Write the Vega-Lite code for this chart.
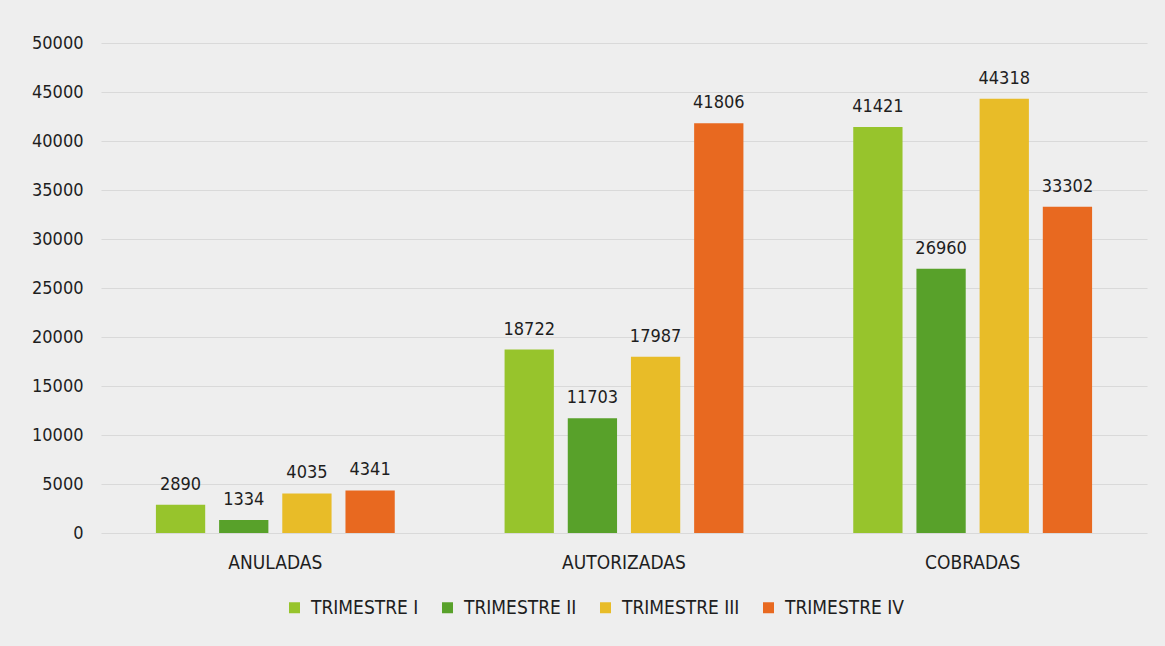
{
  "$schema": "https://vega.github.io/schema/vega-lite/v6.json",
  "autosize": {"type": "none"},
  "width": 1046,
  "height": 490,
  "padding": {"left": 101, "top": 43, "right": 18, "bottom": 113},
  "background": "#eeeeee",
  "config": {
    "font": "DejaVu Sans Condensed, sans-serif",
    "view": {"stroke": null},
    "axis": {"labelFont": "DejaVu Sans Condensed, sans-serif", "labelColor": "#1e1e1e"},
    "legend": {"labelFont": "DejaVu Sans Condensed, sans-serif", "labelColor": "#1e1e1e"}
  },
  "data": {
    "values": [
      {"categoria": "ANULADAS", "trimestre": "TRIMESTRE I", "valor": 2890},
      {"categoria": "ANULADAS", "trimestre": "TRIMESTRE II", "valor": 1334},
      {"categoria": "ANULADAS", "trimestre": "TRIMESTRE III", "valor": 4035},
      {"categoria": "ANULADAS", "trimestre": "TRIMESTRE IV", "valor": 4341},
      {"categoria": "AUTORIZADAS", "trimestre": "TRIMESTRE I", "valor": 18722},
      {"categoria": "AUTORIZADAS", "trimestre": "TRIMESTRE II", "valor": 11703},
      {"categoria": "AUTORIZADAS", "trimestre": "TRIMESTRE III", "valor": 17987},
      {"categoria": "AUTORIZADAS", "trimestre": "TRIMESTRE IV", "valor": 41806},
      {"categoria": "COBRADAS", "trimestre": "TRIMESTRE I", "valor": 41421},
      {"categoria": "COBRADAS", "trimestre": "TRIMESTRE II", "valor": 26960},
      {"categoria": "COBRADAS", "trimestre": "TRIMESTRE III", "valor": 44318},
      {"categoria": "COBRADAS", "trimestre": "TRIMESTRE IV", "valor": 33302}
    ]
  },
  "encoding": {
    "x": {
      "field": "categoria",
      "type": "nominal",
      "sort": ["ANULADAS", "AUTORIZADAS", "COBRADAS"],
      "scale": {"paddingInner": 0.315, "paddingOuter": 0.1575},
      "axis": {
        "title": null,
        "labelAngle": 0,
        "ticks": false,
        "domain": false,
        "labelFontSize": 19,
        "labelPadding": 20
      }
    },
    "xOffset": {
      "field": "trimestre",
      "type": "nominal",
      "sort": ["TRIMESTRE I", "TRIMESTRE II", "TRIMESTRE III", "TRIMESTRE IV"],
      "scale": {"paddingInner": 0.22, "paddingOuter": 0}
    },
    "y": {
      "field": "valor",
      "type": "quantitative",
      "scale": {"domain": [0, 50000], "nice": false},
      "axis": {
        "title": null,
        "values": [0, 5000, 10000, 15000, 20000, 25000, 30000, 35000, 40000, 45000, 50000],
        "labelOverlap": false,
        "format": "d",
        "ticks": false,
        "domain": false,
        "labelFontSize": 18,
        "labelPadding": 18,
        "gridColor": "#d9d9d9",
        "gridWidth": 1
      }
    }
  },
  "layer": [
    {
      "mark": {"type": "bar"},
      "encoding": {
        "color": {
          "field": "trimestre",
          "type": "nominal",
          "sort": ["TRIMESTRE I", "TRIMESTRE II", "TRIMESTRE III", "TRIMESTRE IV"],
          "scale": {
            "domain": ["TRIMESTRE I", "TRIMESTRE II", "TRIMESTRE III", "TRIMESTRE IV"],
            "range": ["#97c42c", "#58a12a", "#e8bc28", "#e86920"]
          },
          "legend": {
            "title": null,
            "orient": "none",
            "direction": "horizontal",
            "legendX": 184,
            "legendY": 555,
            "symbolType": "square",
            "symbolSize": 121,
            "symbolStrokeWidth": 0,
            "labelFontSize": 19,
            "labelOffset": 7,
            "columnPadding": 19
          }
        }
      }
    },
    {
      "mark": {"type": "text", "baseline": "alphabetic", "dy": -15, "fontSize": 18, "color": "#1e1e1e"},
      "encoding": {
        "text": {"field": "valor", "type": "quantitative", "format": "d"}
      }
    }
  ]
}
